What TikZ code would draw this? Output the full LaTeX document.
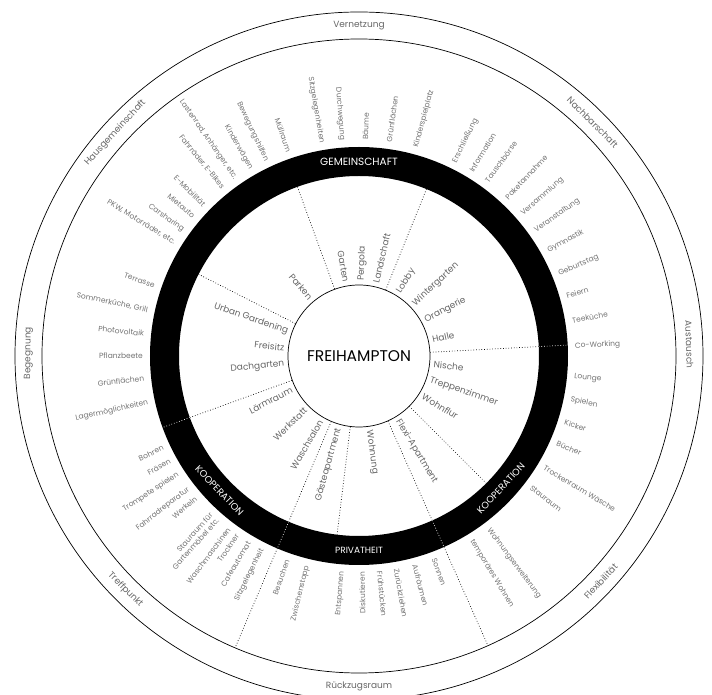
\documentclass[tikz,border=0pt]{standalone}
\usepackage{fontspec}
\setmainfont{Poppins}
\usetikzlibrary{positioning}
\tikzset{
  lbl/.style={font=\fontsize{7.5}{8.5}\selectfont, text=black!55, inner sep=0pt},
  roomlbl/.style={font=\fontsize{9}{10}\selectfont, text=black!60, inner sep=0pt},
  divider/.style={dotted, line width=0.7pt},
}

\begin{document}
\begin{tikzpicture}[
  x=1pt, y=1pt,
  outw/.style={lbl, anchor=west, align=left},
  inw/.style={lbl, anchor=east, align=right},
  roomout/.style={roomlbl, anchor=west},
  roomin/.style={roomlbl, anchor=east},
  zone/.style={font=\fontsize{9}{10}\selectfont, text=black!60, inner sep=0pt},
  sect/.style={font=\fontsize{9.5}{10}\selectfont, text=white, inner sep=0pt}
]

\clip (-359,-339) rectangle (353,356);

% outer band
\draw[line width=0.7pt] (0,0) circle (344) (0,0) circle (317);

% black ring
\fill[even odd rule] (0,0) circle (209) (0,0) circle (180);

\node[draw, circle, minimum size=142pt, line width=0.7pt, inner sep=0pt,
  font=\fontsize{15.5}{17}\selectfont] (fh) at (0,0) {FREIHAMPTON};

% dividers
\foreach \a in {153,110,68,315,263}
  \draw[divider] (fh.\a) -- (\a:180);
\foreach \a in {3,200} {
  \draw[divider] (fh.\a) -- (\a:180);
  \draw[divider, white] (\a:180) -- (\a:209);
}
\foreach \a in {294,247} {
  \draw[divider] (fh.\a) -- (\a:180);
  \draw[divider, white] (\a:180) -- (\a:209);
  \draw[divider] (\a:209) -- (\a:317);
}

% ring sections
\node[sect, font=\fontsize{10.5}{11}\selectfont] (gem) at (90:194) {GEMEINSCHAFT};
\node[sect, rotate=47] (koopr) at (-43:194) {KOOPERATION};
\node[sect, font=\fontsize{9}{10}\selectfont] (priv) at (-90:194) {PRIVATHEIT};
\node[sect, rotate=-46] (koopl) at (-136:194) {KOOPERATION};

% outer band
\node[zone] (vern) at (90:330.5) {Vernetzung};
\node[zone, rotate=-45] (nach) at (45:330.5) {Nachbarschaft};
\node[zone, rotate=-88] (aust) at (2:330.5) {Austausch};
\node[zone, rotate=47] (flex) at (-43:330.5) {Flexibilität};
\node[zone] (rueck) at (-90:330.5) {Rückzugsraum};
\node[zone, rotate=-45] (treff) at (-135:330.5) {Treffpunkt};
\node[zone, rotate=89.5] (beg) at (179.5:330.5) {Begegnung};
\node[zone, rotate=47.5] (haus) at (137.5:330.5) {Hausgemeinschaft};

% rooms
\foreach \a/\t [count=\i] in {88/Pergola, 77/Landschaft, 58/Lobby, 43/Wintergarten,
    28/Orangerie, 12.5/Halle, -6.3/Nische, -18.8/Treppenzimmer, -31.7/Wohnflur,
    -58.9/Flexi-Apartment, -82.3/Wohnung}
  \node[roomout, rotate=\a] (ro\i) at (\a:75) {\t};
\foreach \a/\t [count=\i] in {100/Garten, 130/Parken, 161/Urban Gardening,
    173.7/Freisitz, 186/Dachgarten, 206.8/Lärmraum, 224.6/Werkstatt,
    239.5/Waschsalon, 254.4/Gästeapartment}
  \node[roomin, rotate=\a+180] (ri\i) at (\a:75) {\t};

% uses
\foreach \a/\t [count=\i] in {88.3/Bäume, 82/Grünflächen, 74.7/Kinderspielplatz,
    63.7/Erschließung, 58.7/Information, 53.8/Tauschbörse, 46.9/Paketannahme,
    41/Versammlung, 35.3/Veranstaltung, 29/Gymnastik, 22.4/Geburtstag,
    16.2/Feiern, 9.5/Teeküche, 2.6/Co-Working, -5.5/Lounge, -11.7/Spielen,
    -17.8/Kicker, -23.7/Bücher, -31/Trockenraum Wäsche, -37.3/Stauraum,
    -53.2/Wohnungserweiterung, -58.6/temporäres Wohnen, -69.7/Sonnen,
    -75/Aufräumen, -80/Zurückziehen, -84.5/Frühstücken}
  \node[outw, rotate=\a] (uo\i) at (\a:216) {\t};
\foreach \a/\t [count=\i] in {94.5/Durchwegung, 99.9/Sitzgelegenheiten,
    109/Müllraum, 115.4/Bewegungshilfen, 120/Kinderwägen,
    124.9/{Lastenrad, Anhänger, etc.}, 129/{Fahrräder, E-Bikes},
    135.7/E-Mobilität, 139.8/Mietauto, 144.4/Carsharing,
    148.4/{PKW, Motorräder, etc.}, 161/Terrasse, 167.8/{Sommerküche, Grill},
    174/Photovoltaik, 180/Pflanzbeete, 186/Grünflächen,
    192.5/Lagermöglichkeiten, 205/Bohren, 209/Fräsen, 213.2/Trompete spielen,
    218/Fahrradreparatur, 221/Werkeln, 228/{Stauraum für\\Gartenmöbel etc.},
    233/Waschmaschinen, 235.7/Trockner, 239.3/Cafeautomat,
    243.4/Sitzgelegenheit, 250.6/Besuchen, 256.1/Zwischenstopp,
    265.5/Entspannen, 270.8/Diskutieren}
  \node[inw, rotate=\a+180] (ui\i) at (\a:216) {\t};

\end{tikzpicture}
\end{document}
